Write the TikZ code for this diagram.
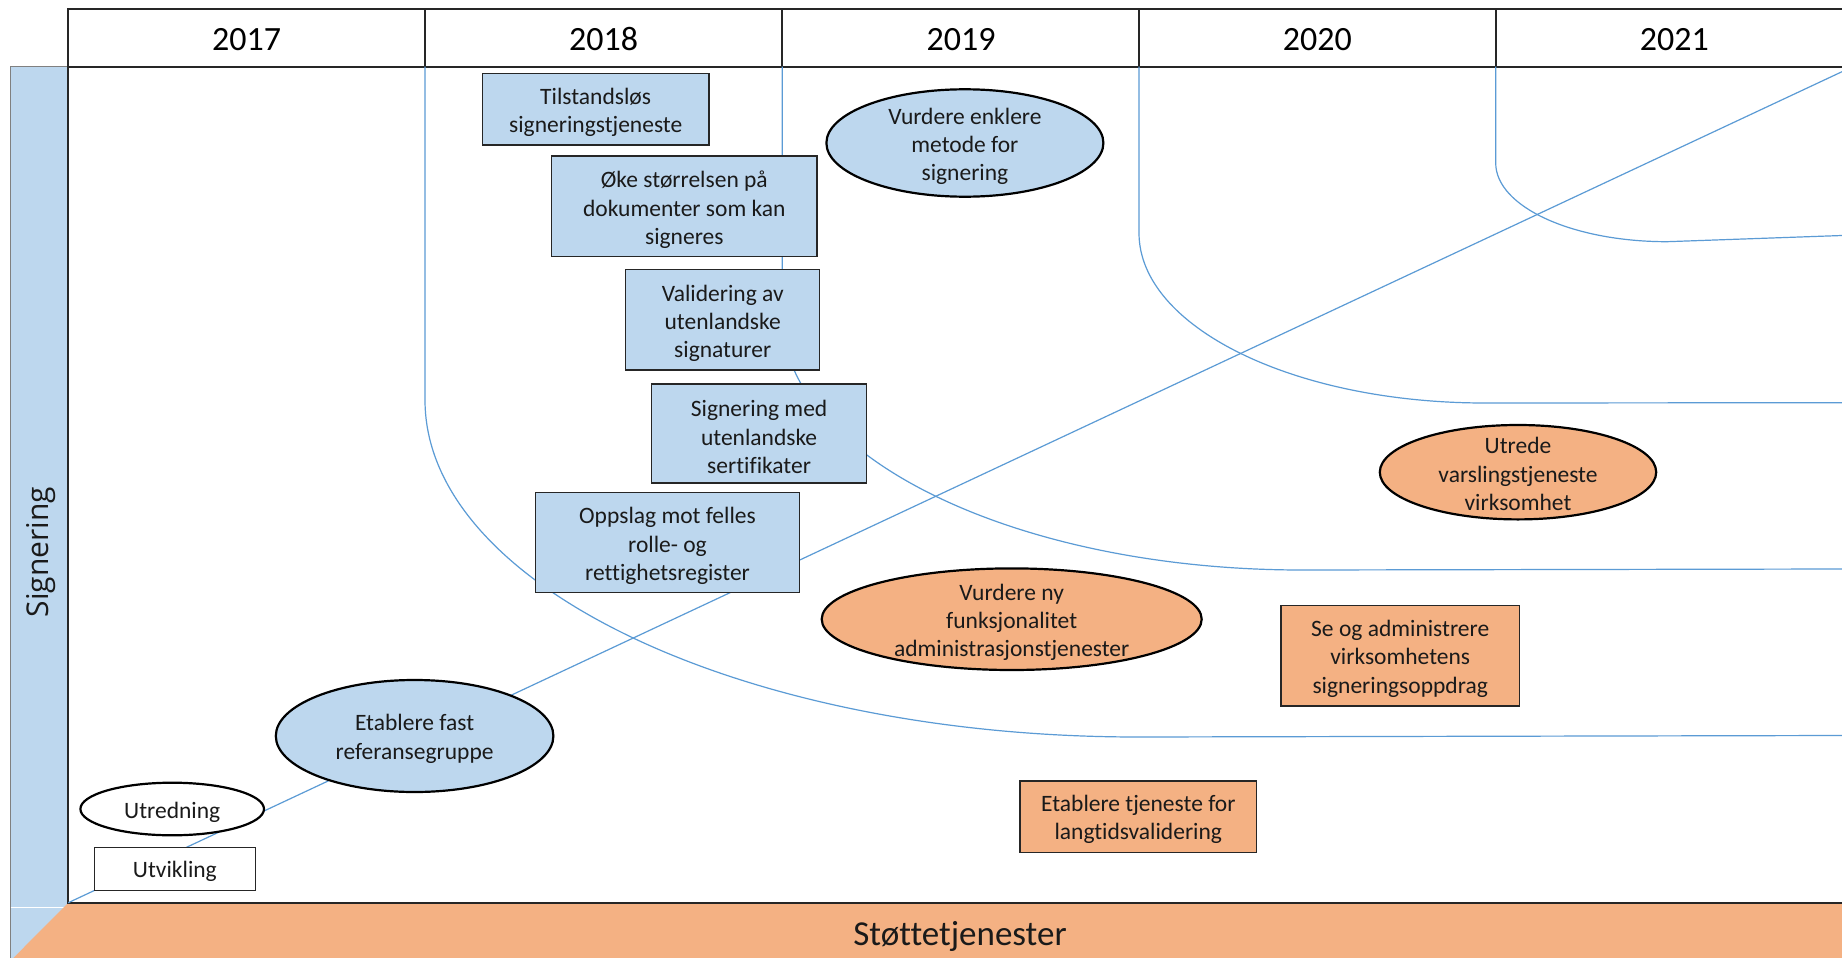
\documentclass[tikz,border=0pt]{standalone}
\usepackage{fontspec}
\setmainfont{Carlito}[Ligatures={NoCommon}]
\newfontfamily\opensans{Open Sans}
\usetikzlibrary{shapes.geometric}
\definecolor{bfill}{HTML}{BDD7EE}
\definecolor{ofill}{HTML}{F4B183}
\definecolor{lineblue}{HTML}{5B9BD5}
\definecolor{dk}{HTML}{262626}
\definecolor{txt}{HTML}{1A1A1A}
\begin{document}
\begin{tikzpicture}[x=1pt,y=-1pt,
  boxtext/.style={font=\fontsize{23.5}{28.3}\selectfont, text=txt, align=center, inner sep=0pt},
  bluebox/.style={draw=dk, line width=1.2pt, fill=bfill, inner sep=0pt},
  orangebox/.style={bluebox, fill=ofill},
  whitebox/.style={bluebox, fill=white},
  ell/.style={ellipse, draw=black, line width=2.2pt, inner sep=0pt},
  track/.style={draw=lineblue, line width=1.2pt},
  year/.style={font=\fontsize{34}{40}\selectfont, text=black, anchor=base},
  frame/.style={draw=dk, line width=1.8pt}]
\useasboundingbox (0,0) rectangle (1842,958);
\clip (0,0) rectangle (1842,958);
\fill[white] (0,0) rectangle (1842,958);

% left bar and bottom band
\fill[bfill] (10.6,66.7) rectangle (68.3,958);
\draw[gray, line width=1pt] (10,958) -- (10,66.7) -- (68.3,66.7);
\draw[white, line width=1.2pt] (10.6,907.3) -- (66,907.3);
\fill[ofill] (68.3,902.7) -- (1860,902.7) -- (1860,958) -- (13.3,958) -- cycle;

% header
\draw[frame] (68.3,9.3) rectangle (1860,66.7);
\foreach \x in {425,782.3,1139,1495.7} \draw[frame] (\x,9.3) -- (\x,66.7);
\node[year] (y17) at (246.6,50.7) {2017};
\node[year] (y18) at (603.7,50.7) {2018};
\node[year] (y19) at (961,50.7) {2019};
\node[year] (y20) at (1317.4,50.7) {2020};
\node[year] (y21) at (1674.3,50.7) {2021};

% main frame
\draw[frame] (68.3,66.7) -- (68.3,902.7) -- (1860,902.7);

% coordinates for tracks
\coordinate (c18) at (425,66.7);
\coordinate (c19) at (782.3,66.7);
\coordinate (c20) at (1139,66.7);
\coordinate (c21) at (1495.7,66.7);
\coordinate (corner) at (68.3,902.7);
\coordinate (diagend) at (1842,71.7);

% tracks
\draw[track] (c18) -- (425,400) .. controls (425,586.1) and (744.2,737) .. (1138,737) -- (1842,735.5);
\draw[track] (c19) -- (782.3,316) .. controls (782.3,456.3) and (1014.8,570) .. (1302,570) -- (1842,569);
\draw[track] (c20) -- (1139,233) .. controls (1139,326.9) and (1293.6,403) .. (1484.7,403) -- (1842,402.7);
\draw[track] (c21) -- (1495.7,163) .. controls (1495.7,206.6) and (1572,241.7) .. (1667,241.7) -- (1842,235.5);
\draw[track] (corner) -- (diagend);

% blue boxes
\node[bluebox, minimum width=226.6pt, minimum height=71.7pt] (tl) at (595.7,109.2) {};
\node[boxtext] (tl-t) at ([yshift=-3pt]tl.center) {Tilstandsløs\\signeringstjeneste};
\node[bluebox, minimum width=265.4pt, minimum height=100.7pt] (ok) at (684.3,206.3) {};
\node[boxtext] (ok-t) at ([yshift=-3.5pt]ok.center) {Øke størrelsen på\\dokumenter som kan\\signeres};
\node[bluebox, minimum width=194.2pt, minimum height=100.7pt] (va) at (722.7,319.7) {};
\node[boxtext] (va-t) at ([yshift=-3.5pt]va.center) {Validering av\\utenlandske\\signaturer};
\node[bluebox, minimum width=215.4pt, minimum height=99pt] (sm) at (759.1,433.5) {};
\node[boxtext] (sm-t) at ([yshift=-3.5pt]sm.center) {Signering med\\utenlandske\\sertifikater};
\node[bluebox, minimum width=263.5pt, minimum height=100.4pt] (op) at (667.5,542.5) {};
\node[boxtext] (op-t) at ([yshift=-3.5pt]op.center) {Oppslag mot felles\\rolle- og\\rettighetsregister};

% blue ellipses
\node[ell, fill=bfill, minimum width=277pt, minimum height=107.4pt] (ve) at (964.9,143) {};
\node[boxtext] (ve-t) at ([yshift=-3.5pt]ve.center) {Vurdere enklere\\metode for\\signering};
\node[ell, fill=bfill, minimum width=277.6pt, minimum height=112pt] (ef) at (414.6,736) {};
\node[boxtext] (ef-t) at ([yshift=-3pt]ef.center) {Etablere fast\\referansegruppe};

% legend
\node[ell, fill=white, minimum width=183.6pt, minimum height=52.6pt] (ut) at (172.2,809) {};
\node[boxtext] (ut-t) at ([yshift=-3pt]ut.center) {Utredning};
\node[whitebox, minimum width=160.8pt, minimum height=43.4pt] (uv) at (174.9,869) {};
\node[boxtext] (uv-t) at ([yshift=-2pt]uv.center) {Utvikling};

% orange ellipses
\node[ell, fill=ofill, minimum width=380pt, minimum height=101.6pt] (vn) at (1011.7,619.2) {};
\node[boxtext] (vn-t) at ([yshift=-3pt]vn.center) {Vurdere ny\\funksjonalitet\\administrasjonstjenester};
\node[ell, fill=ofill, minimum width=276.4pt, minimum height=94.4pt] (uv2) at (1518,472.2) {};
\node[boxtext] (uv2-t) at ([yshift=-2pt]uv2.center) {Utrede\\varslingstjeneste\\virksomhet};

% orange boxes
\node[orangebox, minimum width=238.4pt, minimum height=100.7pt] (se) at (1400.2,655.7) {};
\node[boxtext] (se-t) at ([yshift=-3pt]se.center) {Se og administrere\\virksomhetens\\signeringsoppdrag};
\node[orangebox, minimum width=236.5pt, minimum height=71.7pt] (et) at (1138.3,816.8) {};
\node[boxtext] (et-t) at ([yshift=-2.5pt]et.center) {Etablere tjeneste for\\langtidsvalidering};

% side labels
\node[font=\opensans\fontsize{30}{35}\selectfont, text=txt, rotate=90] (sig) at (41,552) {Signering};
\node[font=\fontsize{35}{42}\selectfont, text=txt, anchor=base] (stt) at (960,945.5) {Støttetjenester};
\end{tikzpicture}
\end{document}
